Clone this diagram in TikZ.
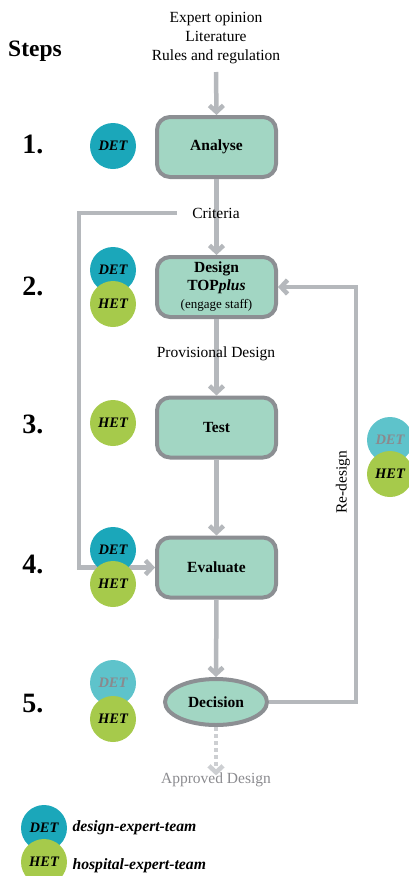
\documentclass[tikz,border=0pt]{standalone}
\usepackage{fontspec}
\setmainfont{Liberation Serif}
\usetikzlibrary{arrows.meta,shapes.geometric}
\definecolor{boxfill}{HTML}{A2D6C3}
\definecolor{boxline}{HTML}{8C8F93}
\definecolor{flow}{HTML}{B5B8BC}
\definecolor{flowlight}{HTML}{CDCFD2}
\definecolor{detc}{HTML}{1BA7BA}
\definecolor{detlight}{HTML}{5EC3CB}
\definecolor{hetc}{HTML}{A6CA4B}
\definecolor{greytext}{HTML}{8A8A8E}
\tikzset{
  stage/.style={rectangle, rounded corners=13pt, draw=boxline, line width=4pt,
    fill=boxfill, minimum width=119pt, minimum height=60pt, align=center,
    font=\fontsize{15.5}{18}\selectfont\bfseries},
  decide/.style={ellipse, draw=boxline, line width=4pt, fill=boxfill,
    minimum width=102pt, minimum height=46pt, inner sep=0pt,
    font=\fontsize{15.5}{18}\selectfont\bfseries},
  team/.style={circle, minimum size=46pt, inner sep=0pt,
    font=\fontsize{14.5}{16}\selectfont\bfseries\itshape},
  det/.style={team, fill=detc},
  detfaded/.style={team, fill=detlight, text=greytext},
  het/.style={team, fill=hetc},
  flowline/.style={draw=flow, line width=4.5pt},
  flowarrow/.style={flowline, -{Straight Barb[length=6.5pt,width=14pt]}},
  label/.style={font=\fontsize{15.5}{19}\selectfont, align=center},
  stepnum/.style={font=\fontsize{28}{30}\selectfont\bfseries},
  legendtext/.style={anchor=west, font=\fontsize{15.7}{18}\selectfont\bfseries\itshape},
}
\begin{document}
\begin{tikzpicture}[x=1pt, y=-1pt]
\useasboundingbox (0,0) rectangle (409,876);

% heading and step numbers
\node[font=\fontsize{23.5}{26}\selectfont\bfseries] (steps) at (35,51) {Steps};
\node[stepnum] (n1) at (33,144) {1.};
\node[stepnum] (n2) at (33,286) {2.};
\node[stepnum] (n3) at (33,424) {3.};
\node[stepnum] (n4) at (33,564) {4.};
\node[stepnum] (n5) at (33,704) {5.};

% inputs
\node[label] (inputs) at (216,38) {Expert opinion\\Literature\\Rules and regulation};
\coordinate (intop) at (216,72);

% process stages
\node[stage] (analyse) at (216.5,147) {Analyse};
\node[stage] (design) at (216.5,287) {Design\\TOP\textit{plus}\\{\fontsize{13}{15}\selectfont\mdseries (engage staff)}};
\node[stage] (test) at (216.5,427.5) {Test};
\node[stage] (evaluate) at (216.5,567.5) {Evaluate};
\node[decide] (decision) at (216,702) {Decision};

% main flow
\draw[flowarrow] (intop) -- (analyse.north);
\draw[flowarrow] (analyse.south) -- (design.north);
\draw[flowarrow] (design.south) -- (test.north);
\draw[flowarrow] (test.south) -- (evaluate.north);
\draw[flowarrow] (evaluate.south) -- (decision.north);

% criteria loop to evaluation
\coordinate (critend) at (177,213);
\coordinate (critcorner) at (79,213);
\draw[flowarrow] (critend) -- (critcorner) |- (evaluate.west);

% re-design loop
\coordinate (redesign) at (356,287);
\draw[flowarrow] (decision.east) -| (redesign) -- (design.east);

% approved output
\node[label, text=greytext] (approved) at (216,780) {Approved Design};
\draw[draw=flowlight, line width=4.5pt, dash pattern=on 4pt off 3pt,
  -{Straight Barb[length=6.5pt,width=14pt]}] (decision.south) -- ([yshift=-6pt]approved.north);

% flow labels
\node[label] (criteria) at (216,213) {Criteria};
\node[label] (provisional) at (216,354) {Provisional Design};
\node[label, rotate=90] (redesignlabel) at (343,482) {Re-design};

% teams per step
\node[det] (d1) at (113,146) {DET};
\node[det] (d2) at (113,270) {DET};
\node[het] (h2) at (113,304) {HET};
\node[het] (h3) at (113,423) {HET};
\node[det] (d4) at (113,550) {DET};
\node[het] (h4) at (113,584) {HET};
\node[detfaded] (d5) at (113,683) {DET};
\node[het] (h5) at (113,719) {HET};
\node[detfaded] (dr) at (390,440) {DET};
\node[het] (hr) at (390,474) {HET};

% legend
\node[det] (ld) at (44,828) {DET};
\node[het] (lh) at (44,862) {HET};
\node[legendtext] (ldt) at (69,828) {design-expert-team};
\node[legendtext] (lht) at (69,866) {hospital-expert-team};
\end{tikzpicture}
\end{document}
